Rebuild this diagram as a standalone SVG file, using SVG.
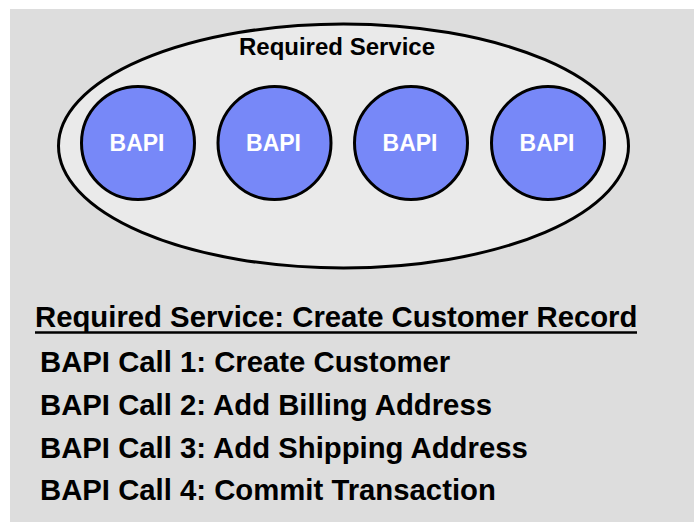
<svg xmlns="http://www.w3.org/2000/svg" width="694" height="522" viewBox="0 0 694 522">
  <style>
    .bapi { fill: #7788f8; stroke: #000; stroke-width: 3; }
    .bapi-label { font-family: "Liberation Sans", Arial, sans-serif; font-weight: bold; font-size: 23px; fill: #fff; text-anchor: middle; }
    .title { font-family: "Liberation Sans", Arial, sans-serif; font-weight: bold; font-size: 24px; fill: #000; text-anchor: middle; }
    .list { font-family: "Liberation Sans", Arial, sans-serif; font-weight: bold; font-size: 29.3px; fill: #000; }
  </style>

  <!-- panel background -->
  <rect x="10" y="9" width="684" height="513" fill="#dddddd"/>

  <!-- service container -->
  <g id="required-service">
    <ellipse cx="343.5" cy="146" rx="285" ry="122" fill="#eaeaea" stroke="#000" stroke-width="3"/>
    <text class="title" x="337" y="55">Required Service</text>
  </g>

  <!-- BAPI nodes -->
  <g id="bapi-1">
    <circle class="bapi" cx="138" cy="143" r="56.5"/>
    <text class="bapi-label" x="137" y="150.5">BAPI</text>
  </g>
  <g id="bapi-2">
    <circle class="bapi" cx="274.5" cy="143" r="56.5"/>
    <text class="bapi-label" x="273.5" y="150.5">BAPI</text>
  </g>
  <g id="bapi-3">
    <circle class="bapi" cx="411" cy="143" r="56.5"/>
    <text class="bapi-label" x="410" y="150.5">BAPI</text>
  </g>
  <g id="bapi-4">
    <circle class="bapi" cx="548" cy="143" r="56.5"/>
    <text class="bapi-label" x="547" y="150.5">BAPI</text>
  </g>

  <g id="connectors"/>

  <!-- call sequence -->
  <g id="call-list">
    <text class="list" x="35" y="327">Required Service: Create Customer Record</text>
    <line x1="35" y1="332.5" x2="637" y2="332.5" stroke="#000" stroke-width="2.5"/>
    <text class="list" x="40" y="372">BAPI Call 1: Create Customer</text>
    <text class="list" x="40" y="415">BAPI Call 2: Add Billing Address</text>
    <text class="list" x="40" y="458">BAPI Call 3: Add Shipping Address</text>
    <text class="list" x="40" y="500">BAPI Call 4: Commit Transaction</text>
  </g>
</svg>
